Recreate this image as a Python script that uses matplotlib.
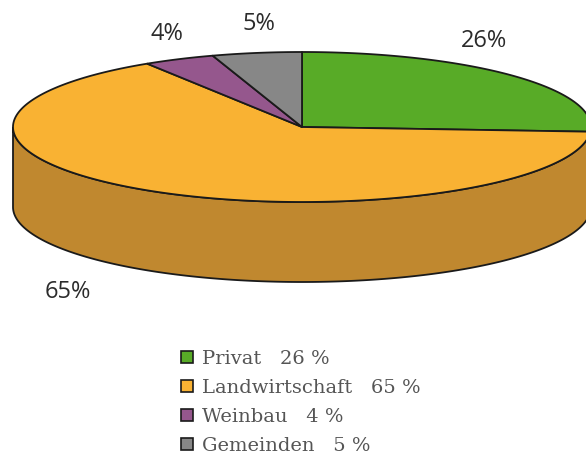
import numpy as np
import matplotlib
matplotlib.use("Agg")
import matplotlib.pyplot as plt
from matplotlib.patches import Patch

categories = ["Privat", "Landwirtschaft", "Weinbau", "Gemeinden"]
shares = [26, 65, 4, 5]
colors = ["#58AB27", "#F9B233", "#95578D", "#878787"]
side_color = "#C0882F"
label_pos = [(484, 41), (68, 292), (167, 34), (259, 24)]
legend_labels = [f"{c}   {s} %" for c, s in zip(categories, shares)]

cx, cy, rx, ry, depth = 302, 127, 289, 75, 80
EDGE = "#1a1a1a"


def arc(a0, a1, dy=0):
    t = np.radians(np.linspace(a0, a1, 300))
    return cx + rx * np.sin(t), cy + dy - ry * np.cos(t)


fig = plt.figure(figsize=(5.86, 4.58), dpi=100)
ax = fig.add_axes([0, 0, 1, 1])
ax.set_xlim(0, 586)
ax.set_ylim(458, 0)
ax.axis("off")

# rim of the disc
xt, yt = arc(90, 270)
xb, yb = arc(270, 90, depth)
ax.fill(np.r_[xt, xb], np.r_[yt, yb], facecolor=side_color, edgecolor=EDGE, lw=1.3, zorder=1)

# top face
start = 0.0
for share, col in zip(shares, colors):
    end = start + share * 3.6
    x, y = arc(start, end)
    ax.fill(np.r_[cx, x], np.r_[cy, y], facecolor=col, edgecolor=EDGE, lw=1.3,
            joinstyle="round", zorder=2)
    start = end

for share, (lx, ly) in zip(shares, label_pos):
    ax.text(lx, ly, f"{share}%", ha="center", va="center", fontsize=17,
            family="Open Sans", color="#2b2b2b")

handles = [Patch(facecolor=c, edgecolor=EDGE, lw=1.2) for c in colors]
ax.legend(handles, legend_labels, loc="upper left", bbox_to_anchor=(181, 350),
          bbox_transform=ax.transData, frameon=False, ncol=1,
          prop={"family": "DejaVu Serif", "size": 14},
          handlelength=0.62, handleheight=0.62, handletextpad=0.47,
          labelspacing=0.56, borderpad=0, borderaxespad=0, labelcolor="#555555")

fig.savefig("out.png", dpi=100)
